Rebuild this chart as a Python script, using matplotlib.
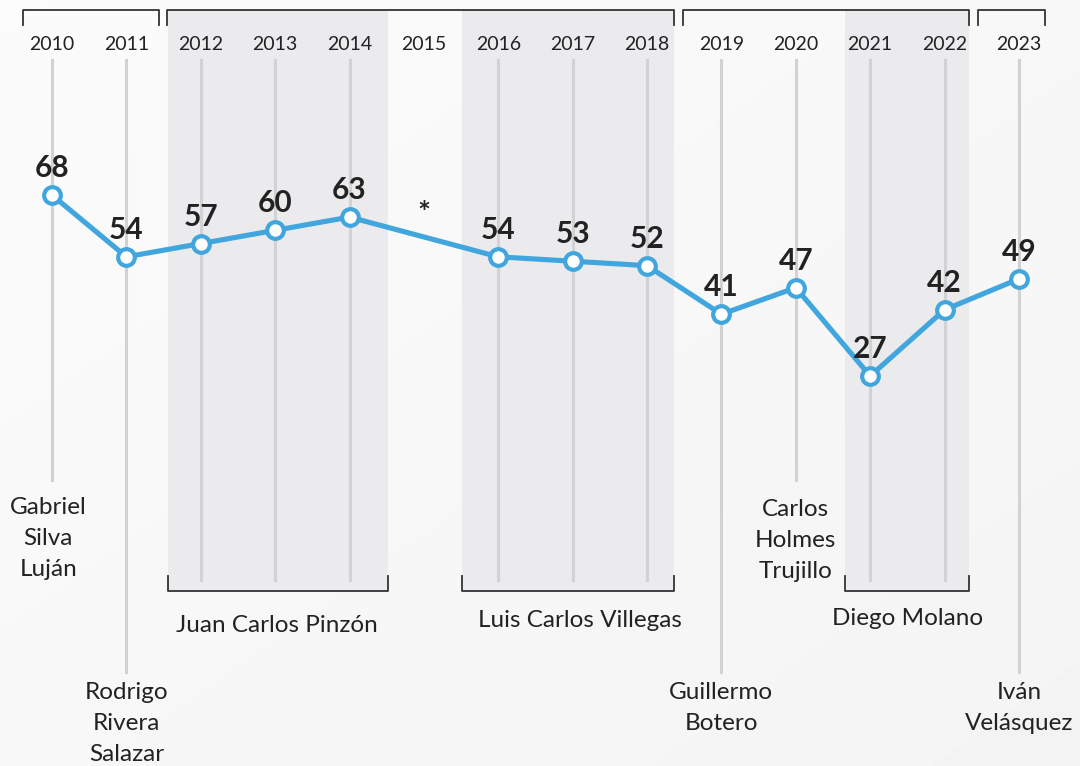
import matplotlib
matplotlib.use('Agg')
import matplotlib.pyplot as plt
import numpy as np

# ---- data ----
years = [2010, 2011, 2012, 2013, 2014, 2016, 2017, 2018, 2019, 2020, 2021, 2022, 2023]
values = [68, 54, 57, 60, 63, 54, 53, 52, 41, 47, 27, 42, 49]
year_labels = list(range(2010, 2024))
missing_year = 2015

# ministers (name, x in years, y pixel of first line centre)
ministers = [
    ('Gabriel\nSilva\nLuján', 2009.95, 505),
    ('Rodrigo\nRivera\nSalazar', 2011, 690),
    ('Juan Carlos Pinzón', 2013.03, 623),
    ('Luis Carlos Villegas', 2017.1, 618),
    ('Guillermo\nBotero', 2019, 690),
    ('Carlos\nHolmes\nTrujillo', 2020, 507),
    ('Diego Molano', 2021.5, 616),
    ('Iván\nVelásquez', 2023, 690),
]
# periods of ministers with several years (shaded)
shade_spans = [(2011.56, 2014.52), (2015.51, 2018.36), (2020.66, 2022.33)]
# presidential terms (top brackets)
top_brackets = [(2009.61, 2011.44), (2011.55, 2018.36), (2018.48, 2022.33), (2022.45, 2023.35)]
# vertical guide line bottom ends (pixels from top)
guide_ends = {2010: 480, 2011: 672, 2012: 580, 2013: 580, 2014: 580, 2016: 580,
              2017: 580, 2018: 580, 2019: 672, 2020: 480, 2021: 580, 2022: 580, 2023: 672}

W, H = 1080, 766
BLUE = '#41a6dd'
DARK = '#222222'
FONT = ['Lato', 'DejaVu Sans']

fig = plt.figure(figsize=(W / 100, H / 100), dpi=100)
ax = fig.add_axes([0, 0, 1, 1])
ax.set_xlim(2009.301, 2023.821)
ax.set_ylim(-61.33, 112.17)
ax.axis('off')

def py(p):
    return 1 - p / H

xt = ax.get_xaxis_transform()

# background gradient
gx, gy = np.meshgrid(np.linspace(0, 1, 200), np.linspace(0, 1, 200))
grad = 0.985 - 0.03 * (0.5 * gx + 0.5 * gy)
ax.imshow(grad, cmap='gray', vmin=0, vmax=1, extent=(0, 1, 0, 1), transform=ax.transAxes,
          aspect='auto', zorder=0)

# shaded periods
for x0, x1 in shade_spans:
    ax.fill_between([x0, x1], py(591), py(10), transform=xt, color='#ebebee', lw=0, zorder=1)
    ax.plot([x0, x0, x1, x1], [py(576), py(591), py(591), py(576)], transform=xt,
            color='#333333', lw=1.3, zorder=3)

for x0, x1 in top_brackets:
    ax.plot([x0, x0, x1, x1], [py(25), py(10), py(10), py(25)], transform=xt,
            color='#333333', lw=1.3, zorder=3)

# vertical guides
for yr, end in guide_ends.items():
    ax.plot([yr, yr], [py(60), py(end)], transform=xt, color='#d2d2d4', lw=2.2, zorder=2)

# year labels
for yr in year_labels:
    ax.text(yr, py(44), str(yr), transform=xt, ha='center', va='center',
            fontsize=14, color=DARK, family=FONT, zorder=4)

# main line
ax.plot(years, values, color=BLUE, lw=3.7, marker='o', markersize=12,
        markerfacecolor='white', markeredgecolor=BLUE, markeredgewidth=3,
        solid_joinstyle='round', zorder=5)

for yr, v in zip(years, values):
    ax.annotate(str(v), (yr, v), xytext=(0, 27), textcoords='offset pixels',
                ha='center', va='center', fontsize=21.5, fontweight='bold',
                color=DARK, family=FONT, zorder=6)

ax.text(missing_year, py(214), '*', transform=xt, ha='center', va='center',
        fontsize=22, fontweight='bold', color=DARK, family=FONT, zorder=6)

# minister names
for name, x, yc in ministers:
    ax.text(x, py(yc - 8), name, transform=xt, ha='center', va='top',
            fontsize=17.5, color=DARK, family=FONT, linespacing=1.58, zorder=6)

fig.savefig('out.png', dpi=100)
